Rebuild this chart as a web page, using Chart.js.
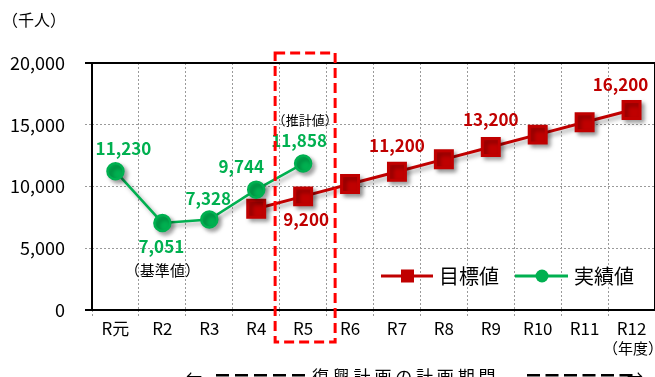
<!DOCTYPE html>
<html>
<head>
<meta charset="utf-8">
<script src="https://cdn.jsdelivr.net/npm/chart.js@4.4.1/dist/chart.umd.min.js"></script>
<style>
  body { margin: 0; background: #fff; }
</style>
</head>
<body>
<canvas id="chart_0" width="655" height="377"></canvas>
<script>
var years = ["R元", "R2", "R3", "R4", "R5", "R6", "R7", "R8", "R9", "R10", "R11", "R12"];
var actualValues = [11230, 7051, 7328, 9744, 11858, null, null, null, null, null, null, null];
var targetValues = [null, null, null, 8200, 9200, 10200, 11200, 12200, 13200, 14200, 15200, 16200];
var yTicks = [0, 5000, 10000, 15000, 20000];

// which points get a number, and where it sits relative to the point
var actualLabels = [[0, 8, -23], [1, -1, 24], [2, -1, -21], [3, -15, -23], [4, -4, -23]];
var targetLabels = [[4, 3, 23], [6, 0, -26], [8, 0, -27], [11, -11, -25]];

var FONT = "'Noto Sans CJK JP', 'Noto Sans', sans-serif";
var RED = "#C00000";
var GREEN = "#00B050";

function fmt(v) {
  return v.toString().replace(/\B(?=(\d{3})+(?!\d))/g, ",");
}

var extras = {
  id: "extras",
  beforeDatasetsDraw: function (chart) {
    var ctx = chart.ctx;
    ctx.save();
    ctx.shadowColor = "rgba(0,0,0,0.35)";
    ctx.shadowOffsetX = 3;
    ctx.shadowOffsetY = 3;
    ctx.shadowBlur = 4;
  },
  afterDatasetsDraw: function (chart) {
    var ctx = chart.ctx;
    ctx.restore();
    var a = chart.chartArea;

    // frame
    ctx.save();
    ctx.strokeStyle = "#000";
    ctx.lineWidth = 2;
    ctx.beginPath();
    ctx.moveTo(a.left - 7, a.top); ctx.lineTo(a.right, a.top);
    ctx.moveTo(a.left, a.top); ctx.lineTo(a.left, a.bottom);
    ctx.moveTo(a.left - 7, a.bottom); ctx.lineTo(a.right, a.bottom);
    ctx.moveTo(a.right, a.top); ctx.lineTo(a.right, a.bottom);
    ctx.stroke();
    ctx.restore();

    // value labels
    function drawLabels(dsIndex, list, color) {
      var meta = chart.getDatasetMeta(dsIndex);
      var data = chart.data.datasets[dsIndex].data;
      ctx.save();
      ctx.font = "bold 17px " + FONT;
      ctx.fillStyle = color;
      ctx.textAlign = "center";
      ctx.textBaseline = "middle";
      list.forEach(function (l) {
        var p = meta.data[l[0]];
        ctx.fillText(fmt(data[l[0]]), p.x + l[1], p.y + l[2]);
      });
      ctx.restore();
    }
    drawLabels(0, actualLabels, GREEN);
    drawLabels(1, targetLabels, RED);

    var xs = chart.scales.x;
    var ys = chart.scales.y;
    ctx.save();
    ctx.fillStyle = "#000";
    ctx.textAlign = "center";
    ctx.textBaseline = "middle";
    ctx.font = "15px " + FONT;
    ctx.fillText("（基準値）", xs.getPixelForValue(1), ys.getPixelForValue(7051) + 47);
    ctx.font = "13px " + FONT;
    ctx.fillText("（推計値）", xs.getPixelForValue(4) + 2, ys.getPixelForValue(11858) - 43);
    ctx.restore();

    // dashed box round R5
    var cx = xs.getPixelForValue(4);
    ctx.save();
    ctx.strokeStyle = "#FF0000";
    ctx.lineWidth = 3;
    ctx.setLineDash([10, 5]);
    ctx.strokeRect(cx - 28, a.top - 10, 60, 289);
    ctx.restore();

    // legend
    ctx.save();
    var ly = 276;
    ctx.lineWidth = 3;
    ctx.strokeStyle = RED;
    ctx.beginPath(); ctx.moveTo(381, ly); ctx.lineTo(433, ly); ctx.stroke();
    ctx.fillStyle = RED;
    ctx.fillRect(401, ly - 6.5, 13, 13);
    ctx.strokeStyle = GREEN;
    ctx.beginPath(); ctx.moveTo(515, ly); ctx.lineTo(568, ly); ctx.stroke();
    ctx.fillStyle = GREEN;
    ctx.beginPath(); ctx.arc(542, ly, 6.5, 0, Math.PI * 2); ctx.fill();
    ctx.fillStyle = "#000";
    ctx.font = "20px " + FONT;
    ctx.textBaseline = "middle";
    ctx.textAlign = "left";
    ctx.fillText(chart.data.datasets[1].label, 439, ly);
    ctx.fillText(chart.data.datasets[0].label, 574, ly);
    ctx.restore();
  },
  afterDraw: function (chart) {
    var ctx = chart.ctx;
    ctx.save();
    ctx.fillStyle = "#000";
    ctx.textBaseline = "middle";
    ctx.textAlign = "left";
    ctx.font = "16px " + FONT;
    ctx.fillText("（千人）", 2, 20);
    ctx.font = "15px " + FONT;
    ctx.fillText("（年度）", 603, 348);
    // plan period arrow, mostly cut off at the bottom edge
    ctx.font = "16px " + FONT;
    ctx.fillText("←", 186, 376);
    ctx.fillText("→", 627, 376);
    ctx.font = "17px " + FONT;
    ctx.fillText("復 興 計 画 の 計 画 期 間", 312, 377);
    var i;
    for (i = 0; i < 5; i++) ctx.fillRect(216 + i * 19, 374, 13, 2.5);
    for (i = 0; i < 6; i++) ctx.fillRect(527 + i * 18.5, 374, 13, 2.5);
    ctx.restore();
  }
};

new Chart("chart_0", {
  type: "line",
  data: {
    labels: years,
    datasets: [{
      label: "実績値",
      data: actualValues,
      borderColor: GREEN,
      backgroundColor: GREEN,
      borderWidth: 2.5,
      pointStyle: "circle",
      pointRadius: 8,
      pointHoverRadius: 8,
      fill: false,
      spanGaps: false
    }, {
      label: "目標値",
      data: targetValues,
      borderColor: RED,
      backgroundColor: RED,
      borderWidth: 3,
      pointStyle: "rect",
      pointRadius: 12,
      pointHoverRadius: 12,
      fill: false
    }]
  },
  options: {
    responsive: false,
    animation: false,
    layout: { autoPadding: false, padding: { top: 63, right: 0, left: 0, bottom: 0 } },
    plugins: {
      legend: { display: false },
      tooltip: { enabled: false }
    },
    scales: {
      x: {
        offset: true,
        grid: {
          offset: true,
          color: "#9a9a9a",
          lineWidth: 1,
          tickLength: 8,
          tickColor: "#9a9a9a",
          tickBorderDash: [2, 2]
        },
        border: { display: false, dash: [2, 2] },
        ticks: {
          color: "#000",
          padding: 0,
          maxRotation: 0,
          autoSkip: false,
          font: { family: FONT, size: 17 }
        },
        afterFit: function (s) {
          s.height = 67;
          s.paddingLeft = 0;
          s.paddingRight = 0;
        }
      },
      y: {
        min: 0,
        max: 20000,
        afterBuildTicks: function (s) {
          s.ticks = yTicks.map(function (v) { return { value: v }; });
        },
        grid: {
          color: "#9a9a9a",
          lineWidth: 1,
          tickLength: 7,
          tickColor: "#9a9a9a",
          tickBorderDash: [2, 2]
        },
        border: { display: false, dash: [2, 2] },
        ticks: {
          color: "#000",
          padding: 20,
          font: { family: FONT, size: 18 },
          callback: function (v) { return fmt(v); }
        },
        afterFit: function (s) { s.width = 92; }
      }
    }
  },
  plugins: [extras]
});
</script>
</body>
</html>
